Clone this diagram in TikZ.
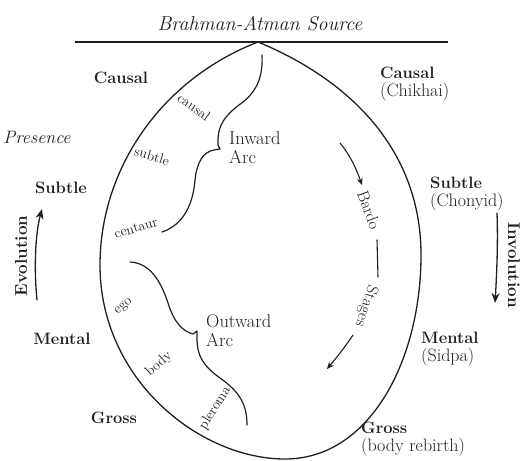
\documentclass[tikz,border=0pt]{standalone}
\usepackage{fontspec}
\usetikzlibrary{arrows.meta}
\definecolor{ink}{RGB}{28,32,30}
\begin{document}
\begin{tikzpicture}[x=1pt,y=-1pt,line join=round,line cap=round,
  every node/.style={inner sep=0pt,text=ink},
  titletext/.style={font=\fontsize{20}{22}\selectfont\itshape},
  lvl/.style={font=\fontsize{16.5}{18}\selectfont\bfseries},
  paren/.style={font=\fontsize{18}{19}\selectfont},
  arctext/.style={font=\fontsize{18.5}{19}\selectfont,align=left,anchor=north west},
  small/.style={font=\fontsize{14}{16}\selectfont},
  bardotext/.style={font=\fontsize{16.5}{18}\selectfont},
  dirtext/.style={font=\fontsize{17}{18}\selectfont\bfseries},
  outline/.style={draw=ink,line width=1.3pt},
  arcline/.style={draw=ink,line width=1.2pt},
  bigarrow/.style={draw=ink,line width=1.3pt,-{Stealth[length=10pt,width=8pt]}},
  smallarrow/.style={draw=ink,line width=1.1pt,-{Stealth[length=7pt,width=6pt]}}]
\useasboundingbox (0,0) rectangle (526,460);

% title and source line
\node[titletext] (title) at (260,24) {Brahman-Atman Source};
\coordinate (tl) at (75,42);
\coordinate (tr) at (448,42);
\draw[draw=ink,line width=2pt,line cap=butt] (tl) -- (tr);

% outer lens
\coordinate (apex) at (258,42);
\coordinate (L) at (100,265);
\coordinate (B) at (285,459);
\coordinate (R) at (421,255);
\draw[outline] (apex) .. controls (160,80) and (100,170) .. (L)
  .. controls (100,380) and (200,459) .. (B)
  .. controls (370,459) and (421,360) .. (R)
  .. controls (421,150) and (350,80) .. (apex);

% inward arc
\coordinate (inS) at (262,55);
\coordinate (inE) at (162,232);
\draw[arcline] (inS) .. controls (263,75) and (258,90) .. (243,102)
  .. controls (225,115) and (217,125) .. (218,145)
  -- (220,149) -- (214,150)
  .. controls (203,152) and (197,162) .. (195,180)
  .. controls (193,205) and (183,225) .. (inE);

% outward arc
\coordinate (outS) at (130,262);
\coordinate (outE) at (247,425);
\draw[arcline] (outS) .. controls (152,263) and (162,285) .. (168,303)
  .. controls (174,322) and (182,331) .. (193,334)
  -- (197,331) -- (197,338)
  .. controls (197,355) and (202,365) .. (220,378)
  .. controls (240,392) and (247,405) .. (outE);

% labels along the left inner edge
\node[small,rotate=-36] (lcausal) at (194,107) {causal};
\node[small,rotate=-17] (lsubtle) at (152,156) {subtle};
\node[small,rotate=17] (lcentaur) at (136,228) {centaur};
\node[small,rotate=42] (lego) at (124,307) {ego};
\node[small,rotate=42] (lbody) at (159,364) {body};
\node[small,rotate=58] (lpleroma) at (215,408) {pleroma};

% arc names
\node[arctext] (inward) at (229,131) {Inward\\Arc};
\node[arctext] (outward) at (206,314) {Outward\\Arc};

% left column
\node[lvl] (causalL) at (121,78) {Causal};
\node[font=\fontsize{18}{19}\selectfont\itshape] (presence) at (37,137) {Presence};
\node[lvl] (subtleL) at (61,188) {Subtle};
\node[lvl] (mentalL) at (62,339) {Mental};
\node[lvl] (grossL) at (114,418) {Gross};

% evolution
\node[dirtext,rotate=90] (evolution) at (21,256) {Evolution};
\coordinate (evoS) at (37,300);
\coordinate (evoE) at (42,209);
\draw[bigarrow] (evoS) .. controls (34,270) and (35,235) .. (evoE);

% right column
\node[lvl,anchor=west] (causalR) at (380,73) {Causal};
\node[paren,anchor=west] (chikhai) at (380,92) {(Chikhai)};
\node[lvl,anchor=west] (subtleR) at (430,183) {Subtle};
\node[paren,anchor=west] (chonyid) at (430,202) {(Chonyid)};
\node[lvl,anchor=west] (mentalR) at (421,338) {Mental};
\node[paren,anchor=west] (sidpa) at (421,357) {(Sidpa)};
\node[lvl,anchor=west] (grossR) at (361,428) {Gross};
\node[paren,anchor=west] (rebirth) at (361,447) {(body rebirth)};

% involution
\node[dirtext,rotate=-90] (involution) at (514,265) {Involution};
\coordinate (invS) at (497,213);
\coordinate (invE) at (495,303);
\draw[bigarrow] (invS) .. controls (498,240) and (497,270) .. (invE);

% bardo stages
\coordinate (bA) at (340,143);
\coordinate (bB) at (362,185);
\draw[smallarrow] (bA) .. controls (350,155) and (356,168) .. (bB);
\node[bardotext,rotate=-70] (bardo) at (369,210) {Bardo};
\coordinate (dA) at (377,240);
\coordinate (dB) at (378,277);
\draw[draw=ink,line width=1.1pt] (dA) -- (dB);
\node[bardotext,rotate=-108] (stages) at (366,306) {Stages};
\coordinate (sA) at (353,335);
\coordinate (sB) at (327,369);
\draw[smallarrow] (sA) .. controls (345,347) and (337,357) .. (sB);
\end{tikzpicture}
\end{document}
